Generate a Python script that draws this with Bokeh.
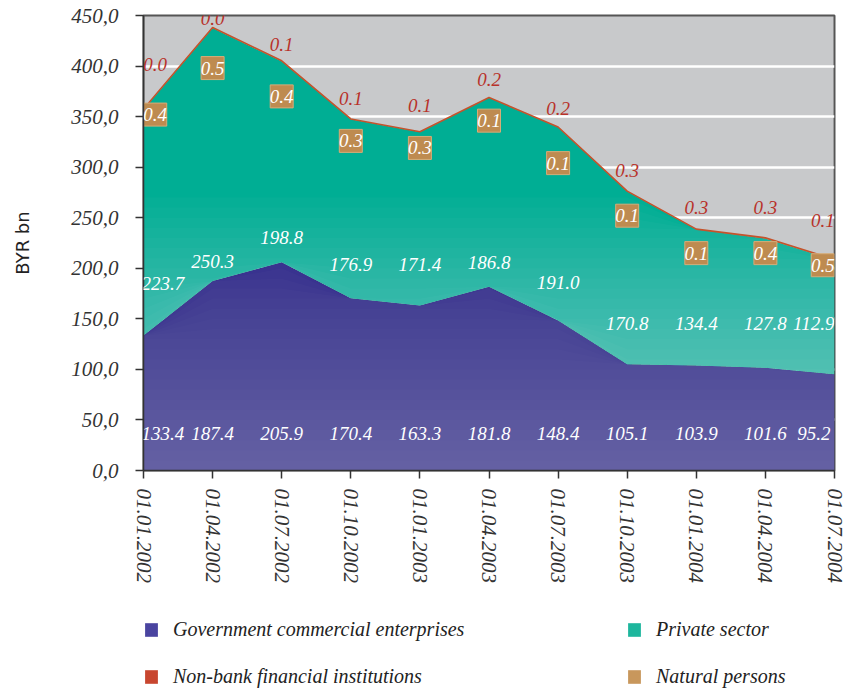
import numpy as np
from bokeh.plotting import figure
from bokeh.layouts import column
from bokeh.models import ColumnDataSource, LabelSet, FixedTicker, Legend, LegendItem, Range1d
from bokeh.embed import file_html
from bokeh.resources import INLINE

# ---------------- data ----------------
dates = ["01.01.2002", "01.04.2002", "01.07.2002", "01.10.2002", "01.01.2003", "01.04.2003",
         "01.07.2003", "01.10.2003", "01.01.2004", "01.04.2004", "01.07.2004"]
gov = [133.4, 187.4, 205.9, 170.4, 163.3, 181.8, 148.4, 105.1, 103.9, 101.6, 95.2]
private = [223.7, 250.3, 198.8, 176.9, 171.4, 186.8, 191.0, 170.8, 134.4, 127.8, 112.9]
natural = [0.4, 0.5, 0.4, 0.3, 0.3, 0.1, 0.1, 0.1, 0.1, 0.4, 0.5]
nbfi = [0.0, 0.0, 0.1, 0.1, 0.1, 0.2, 0.2, 0.3, 0.3, 0.3, 0.1]
y_ticks = [0, 50, 100, 150, 200, 250, 300, 350, 400, 450]
y_tick_labels = ["0,0", "50,0", "100,0", "150,0", "200,0", "250,0", "300,0", "350,0", "400,0", "450,0"]
series_names = ["Government commercial enterprises", "Private sector",
                "Non-bank financial institutions", "Natural persons"]
series_colors = ["#4A44A0", "#1DB69D", "#C8462F", "#C8975C"]

# ---------------- label placement (layout, data units) ----------------
gov_label_y = [37] * len(dates)
priv_label_y = [185, 207, 230, 204, 204, 206, 186, 145, 145, 145, 145]
nbfi_label_y = [402, 447, 421, 368, 361, 387, 358, 297, 260, 260, 247]
nat_label_y = [352, 398, 370, 326, 319, 346, 304, 252, 215, 215, 203]

x = np.arange(len(dates), dtype=float)
g = np.array(gov)
gp = g + np.array(private)
gpn = gp + np.array(natural)
tot = gpn + np.array(nbfi)

FONT = "Liberation Serif"

p = figure(frame_width=691, frame_height=455, min_border_left=143, min_border_right=12,
           min_border_top=15, min_border_bottom=125, output_backend="svg",
           toolbar_location=None, x_range=Range1d(0, 10), y_range=Range1d(0, 450))
p.background_fill_color = "#C8C9CB"
p.border_fill_color = "white"
p.outline_line_color = "#555555"
p.outline_line_width = 2

# background gradient (lighter toward bottom), drawn above total only
for t in np.arange(215, 455, 10):
    p.varea(x=x, y1=tot, y2=np.maximum(tot, t), fill_color="white", fill_alpha=0.012)

# gov area + gradient
r_gov = p.varea(x=x, y1=0, y2=g, fill_color="#36308E")
for t in np.arange(10, 215, 10):
    p.varea(x=x, y1=0, y2=np.minimum(g, t), fill_color="white", fill_alpha=0.0175)

# private area + gradient
r_priv = p.varea(x=x, y1=g, y2=gp, fill_color="#00AE94")
for t in np.arange(100, 275, 10):
    p.varea(x=x, y1=g, y2=np.maximum(g, np.minimum(gp, t)), fill_color="white", fill_alpha=0.022)

r_nat = p.varea(x=x, y1=gp, y2=gpn, fill_color="#C08A4E")
r_nbfi = p.varea(x=x, y1=gpn, y2=tot, fill_color="#C0392B")
p.line(x=x, y=tot, line_color="#C4532C", line_width=1.6)

# grid
p.xgrid.visible = False
p.ygrid.grid_line_color = "white"
p.ygrid.grid_line_width = 2.5
p.ygrid.ticker = FixedTicker(ticks=y_ticks)

# axes
p.yaxis.ticker = FixedTicker(ticks=y_ticks)
p.yaxis.major_label_overrides = {t: l for t, l in zip(y_ticks, y_tick_labels)}
p.xaxis.ticker = FixedTicker(ticks=list(range(len(dates))))
p.xaxis.major_label_overrides = {i: d for i, d in enumerate(dates)}
p.xaxis.major_label_orientation = "vertical"
for ax in (p.xaxis, p.yaxis):
    ax.axis_line_color = "#333333"
    ax.axis_line_width = 1.5
    ax.major_tick_line_color = "#333333"
    ax.major_tick_line_width = 1.5
    ax.major_tick_out = 8
    ax.major_tick_in = 0
    ax.minor_tick_line_color = None
    ax.major_label_text_font = FONT
    ax.major_label_text_font_style = "italic"
    ax.major_label_text_font_size = "21px"
    ax.major_label_text_color = "#333333"
p.yaxis.major_label_standoff = 17
p.xaxis.major_label_standoff = 10
p.yaxis.axis_label = "BYR bn"
p.yaxis.axis_label_text_font = "DejaVu Sans"
p.yaxis.axis_label_text_font_style = "normal"
p.yaxis.axis_label_text_font_size = "18px"
p.yaxis.axis_label_text_color = "#222222"
p.yaxis.axis_label_standoff = 35

# labels
src = ColumnDataSource(dict(
    xg=np.clip(x, 0.28, 9.70), xs=np.clip(x, 0.17, 9.83),
    gy=gov_label_y, py=priv_label_y, ny=nbfi_label_y, ty=nat_label_y,
    gt=[f"{v:.1f}" for v in gov], pt=[f"{v:.1f}" for v in private],
    nt=[f"{v:.1f}" for v in nbfi], tt=[f"{v:.1f}" for v in natural]))

# tan boxes behind natural-person labels
p.rect(x="xs", y="ty", width=23, height=23, width_units="screen", height_units="screen",
       source=src, fill_color="#BE8B50", line_color="#D6AC78", line_width=1)

common = dict(source=src, text_font=FONT, text_font_style="italic", text_align="center",
              text_baseline="middle")
p.add_layout(LabelSet(x="xg", y="gy", text="gt", text_color="white", text_font_size="19px", **common))
p.add_layout(LabelSet(x="xg", y="py", text="pt", text_color="white", text_font_size="19px", **common))
p.add_layout(LabelSet(x="xs", y="ny", text="nt", text_color="#B8322A", text_font_size="19px", **common))
p.add_layout(LabelSet(x="xs", y="ty", text="tt", text_color="white", text_font_size="19px", **common))

# ---------------- legend in its own strip ----------------
q = figure(frame_width=846, frame_height=93, min_border=0, output_backend="svg",
           toolbar_location=None, x_range=Range1d(0, 1), y_range=Range1d(0, 1))
q.axis.visible = False
q.grid.visible = False
q.outline_line_color = None
q.background_fill_color = "white"
# zero-height proxies that only carry the legend swatch colours
proxies = [q.varea(x=x, y1=0, y2=0, fill_color=c) for c in series_colors]

order = [0, 2, 1, 3]  # legend fills column by column
legend = Legend(items=[LegendItem(label=series_names[i], renderers=[proxies[i]]) for i in order],
                location=(143, 0), ncols=2, orientation="vertical",
                glyph_width=16, glyph_height=17, label_standoff=14, label_width=430,
                label_height=24, spacing=23, padding=0, margin=0,
                border_line_color=None, background_fill_alpha=0,
                label_text_font=FONT, label_text_font_style="italic",
                label_text_font_size="20px", label_text_color="#222222")
q.add_layout(legend, "center")

open("out.html", "w").write(file_html(column(p, q, spacing=0), INLINE))
